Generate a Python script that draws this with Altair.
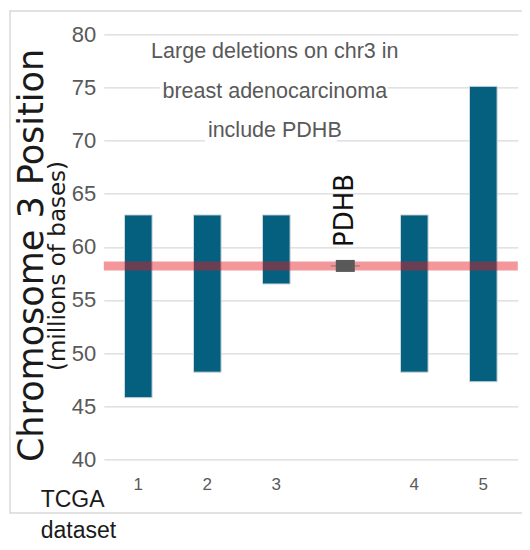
import altair as alt
import pandas as pd

# ---- data ----
categories = ["1", "2", "3", "PDHB", "4", "5"]
bar_datasets = ["1", "2", "3", "4", "5"]
deletion_start = [45.8, 48.2, 56.5, 48.2, 47.3]
deletion_end = [63.0, 63.0, 63.0, 63.0, 75.1]
pdhb_position = [58.2]
y_ticks = [40, 45, 50, 55, 60, 65, 70, 75, 80]
annotation_lines = ["Large deletions on chr3 in", "breast adenocarcinoma", "include PDHB"]
y_title = "Chromosome 3 Position"
y_subtitle = "(millions of bases)"
x_title_lines = ["TCGA", "dataset"]

bars_df = pd.DataFrame({"dataset": bar_datasets, "start": deletion_start, "end": deletion_end})
pdhb_df = pd.DataFrame({"dataset": ["PDHB"], "pos": pdhb_position, "label": ["PDHB"]})
one = alt.Data(values=[{"k": 0}])

NARROW = "Liberation Sans, Arial, sans-serif"
WIDE = "DejaVu Sans, Verdana, sans-serif"

x_scale = alt.Scale(domain=categories, paddingInner=0.6, paddingOuter=0.3)
y_scale = alt.Scale(domain=[40, 80], nice=False, zero=False)

x_enc = alt.X(
    "dataset:N", scale=x_scale, sort=categories, title=None,
    axis=alt.Axis(labelAngle=0, domain=False, ticks=False, grid=False,
                  labelFont=NARROW, labelFontSize=17, labelColor="#595959",
                  labelPadding=17,
                  labelExpr="datum.value == 'PDHB' ? '' : datum.value"),
)

frame = alt.Chart(one).mark_rect(fill=None, stroke="#d9d9d9", strokeWidth=1.5).encode(
    x=alt.value(-93.8), x2=alt.value(440), y=alt.value(-23.3), y2=alt.value(478.7)
)

bars = alt.Chart(bars_df).mark_bar(color="#05607f", stroke="#cdd6da", strokeWidth=1).encode(
    x=x_enc,
    y=alt.Y("start:Q", scale=y_scale, title=None,
            axis=alt.Axis(values=y_ticks, domain=False, ticks=False, grid=True,
                          gridColor="#d9d9d9", gridWidth=1.3,
                          labelFont=NARROW, labelFontSize=22, labelColor="#595959",
                          labelPadding=8)),
    y2="end:Q",
)

red_line = alt.Chart(pdhb_df).mark_rule(color="#e61821", opacity=0.45, strokeWidth=9).encode(
    y=alt.Y("pos:Q", scale=y_scale)
)

marker_line = alt.Chart(pdhb_df).mark_tick(color="#7a7a7a", size=29, thickness=1.5).encode(
    x=alt.X("dataset:N", scale=x_scale, sort=categories),
    y=alt.Y("pos:Q", scale=y_scale),
)
marker = alt.Chart(pdhb_df).mark_tick(color="#595959", size=19, thickness=12, opacity=1).encode(
    x=alt.X("dataset:N", scale=x_scale, sort=categories),
    y=alt.Y("pos:Q", scale=y_scale),
)
pdhb_label = alt.Chart(pdhb_df).mark_text(
    font=WIDE, fontSize=26, angle=270, align="left", baseline="middle", color="#111111"
).encode(
    x=alt.X("dataset:N", scale=x_scale, sort=categories),
    y=alt.value(212.7),
    text="label:N",
)

white_box2 = alt.Chart(one).mark_rect(color="white").encode(
    x=alt.value(56), x2=alt.value(284), y=alt.value(46), y2=alt.value(64)
)
white_box3 = alt.Chart(one).mark_rect(color="white").encode(
    x=alt.value(101), x2=alt.value(233), y=alt.value(96), y2=alt.value(110)
)

annotation = alt.Chart(one).mark_text(
    text=annotation_lines, font=NARROW, fontSize=21.5, color="#595959",
    align="center", baseline="alphabetic", lineHeight=39.4,
).encode(x=alt.value(171), y=alt.value(24))

title_main = alt.Chart(one).mark_text(
    text=y_title, font=WIDE, fontSize=35, color="#1a1a1a", angle=270,
    align="center", baseline="alphabetic",
).encode(x=alt.value(-60.8), y=alt.value(221.2))

title_sub = alt.Chart(one).mark_text(
    text=y_subtitle, font=WIDE, fontSize=23, color="#1a1a1a", angle=270,
    align="center", baseline="alphabetic",
).encode(x=alt.value(-39.0), y=alt.value(231.7))

xt1 = alt.Chart(one).mark_text(
    text=x_title_lines[0], font=NARROW, fontSize=23, color="#1a1a1a",
    align="left", baseline="alphabetic",
).encode(x=alt.value(-63.1), y=alt.value(472.7))
xt2 = alt.Chart(one).mark_text(
    text=x_title_lines[1], font=NARROW, fontSize=23, color="#1a1a1a",
    align="left", baseline="alphabetic",
).encode(x=alt.value(-63.1), y=alt.value(504.0))

chart = alt.layer(
    frame, bars, red_line, marker_line, marker, pdhb_label,
    white_box2, white_box3, annotation, title_main, title_sub, xt1, xt2
).properties(
    width=414, height=425,
    autosize=alt.AutoSizeParams(type="none"),
    padding={"left": 95.8, "top": 26.3, "right": 4.2, "bottom": 84.7},
).configure_view(stroke=None)

chart.save("out.html", embed_options={"renderer": "svg", "actions": False})
